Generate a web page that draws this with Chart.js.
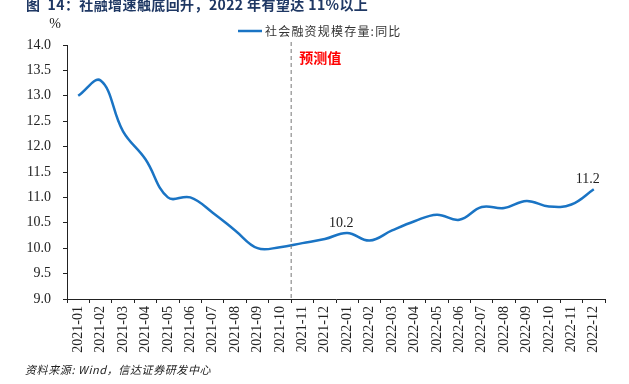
<!DOCTYPE html>
<html>
<head>
<meta charset="utf-8">
<script src="https://cdn.jsdelivr.net/npm/chart.js@4/dist/chart.umd.min.js"></script>
<style>
  body { margin: 0; background: #fff; }
  #c { display: block; }
</style>
</head>
<body>
<canvas id="c" width="629" height="384"></canvas>
<script>
// 数据
const months = ['2021-01','2021-02','2021-03','2021-04','2021-05','2021-06','2021-07','2021-08','2021-09','2021-10','2021-11','2021-12',
                '2022-01','2022-02','2022-03','2022-04','2022-05','2022-06','2022-07','2022-08','2022-09','2022-10','2022-11','2022-12'];
const tsfYoy = [13.0, 13.3, 12.3, 11.75, 11.0, 11.0, 10.7, 10.35, 10.0, 10.02, 10.1, 10.18,
                10.3, 10.15, 10.35, 10.53, 10.66, 10.56, 10.81, 10.79, 10.93, 10.82, 10.86, 11.16];
const pointLabels = ['', '', '', '', '', '', '', '', '', '', '', '', '10.2', '', '', '', '', '', '', '', '', '', '', '11.2'];
const seriesName = '社会融资规模存量:同比';
const forecastFrom = '2021-11';

const serif = '"Liberation Serif", "Times New Roman", serif';
const cjk = '"Noto Sans CJK SC", sans-serif';

const extras = {
  id: 'extras',
  afterDraw(chart) {
    const ctx = chart.ctx;
    const x = chart.scales.x, y = chart.scales.y;
    const area = chart.chartArea;
    ctx.save();

    // 标题
    ctx.fillStyle = '#1f3864';
    ctx.font = 'bold 14px ' + cjk;
    ctx.textBaseline = 'alphabetic';
    ctx.textAlign = 'left';
    ctx.letterSpacing = '0.4px';
    ctx.fillText('图  14：社融增速触底回升，2022 年有望达 11%以上', 26, 10);
    ctx.letterSpacing = '0px';

    // 单位
    ctx.fillStyle = '#222';
    ctx.font = '14px ' + serif;
    ctx.textAlign = 'center';
    ctx.fillText('%', 55, 28);

    // 图例
    const ds = chart.data.datasets[0];
    ctx.strokeStyle = ds.borderColor;
    ctx.lineWidth = 2.5;
    ctx.beginPath();
    ctx.moveTo(238, 31);
    ctx.lineTo(262, 31);
    ctx.stroke();
    ctx.fillStyle = '#333';
    ctx.font = '12px ' + cjk;
    ctx.letterSpacing = '1.2px';
    ctx.textAlign = 'left';
    ctx.textBaseline = 'middle';
    ctx.fillText(ds.label, 265, 31);
    ctx.letterSpacing = '0px';

    // 预测分界线
    const i0 = months.indexOf(forecastFrom);
    const xb = (x.getPixelForValue(i0 - 1) + x.getPixelForValue(i0)) / 2;
    ctx.strokeStyle = '#777';
    ctx.lineWidth = 1;
    ctx.setLineDash([4, 3]);
    ctx.beginPath();
    ctx.moveTo(xb, 42);
    ctx.lineTo(xb, area.bottom);
    ctx.stroke();
    ctx.setLineDash([]);

    ctx.fillStyle = '#ff0000';
    ctx.font = 'bold 14px ' + cjk;
    ctx.textAlign = 'left';
    ctx.textBaseline = 'middle';
    ctx.fillText('预测值', xb + 8, 58);

    // 数据标签
    ctx.fillStyle = '#222';
    ctx.font = '14px ' + serif;
    ctx.textAlign = 'center';
    ctx.textBaseline = 'bottom';
    pointLabels.forEach((t, i) => {
      if (!t) return;
      ctx.fillText(t, x.getPixelForValue(i) - 6, y.getPixelForValue(tsfYoy[i]) - 3);
    });

    // 来源
    ctx.fillStyle = '#222';
    ctx.font = 'italic 11px ' + cjk;
    ctx.letterSpacing = '0.6px';
    ctx.textAlign = 'left';
    ctx.textBaseline = 'middle';
    ctx.fillText('资料来源: Wind，信达证券研发中心', 25, 370);
    ctx.letterSpacing = '0px';

    ctx.restore();
  }
};

new Chart(document.getElementById('c'), {
  type: 'line',
  data: {
    labels: months,
    datasets: [{
      label: seriesName,
      data: tsfYoy,
      borderColor: '#1a74c4',
      borderWidth: 2.5,
      pointRadius: 0,
      tension: 0.4,
      fill: false
    }]
  },
  options: {
    responsive: false,
    animation: false,
    layout: { padding: { top: 45, right: 24, left: 0, bottom: 0 } },
    plugins: {
      legend: { display: false },
      tooltip: { enabled: false }
    },
    scales: {
      x: {
        offset: true,
        grid: { offset: true, drawOnChartArea: false, drawTicks: true, tickLength: 4, color: '#222' },
        border: { color: '#222', width: 1 },
        ticks: {
          autoSkip: false, minRotation: 90, maxRotation: 90, padding: 3,
          color: '#222', font: { family: serif, size: 14 }
        },
        afterFit(s) { s.height = 85; }
      },
      y: {
        min: 9, max: 14,
        grid: { drawOnChartArea: false, drawTicks: true, tickLength: 4, color: '#222' },
        border: { color: '#222', width: 1 },
        ticks: {
          stepSize: 0.5, padding: 12, color: '#222',
          font: { family: serif, size: 14 },
          callback: v => v.toFixed(1)
        },
        afterFit(s) { s.width = 67; }
      }
    }
  },
  plugins: [extras]
});
</script>
</body>
</html>
